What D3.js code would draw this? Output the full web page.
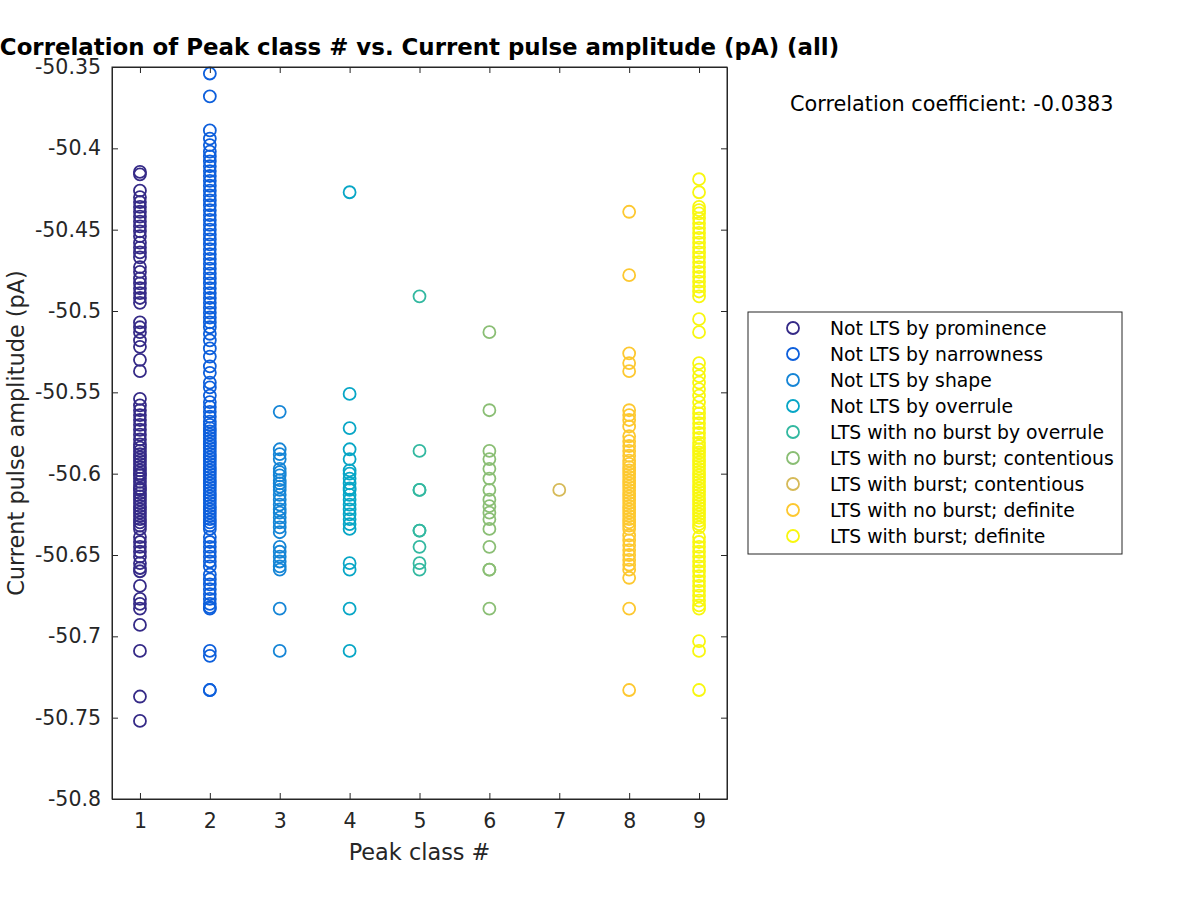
<!DOCTYPE html>
<html><head><meta charset="utf-8">
<script src="https://cdn.jsdelivr.net/npm/d3@7"></script>
<style>body{margin:0;background:#fff}svg{display:block}text{font-family:"DejaVu Sans",sans-serif}</style>
</head><body><svg id="c" width="1200" height="900"></svg>
<script>
const classNames = ["Not LTS by prominence","Not LTS by narrowness","Not LTS by shape","Not LTS by overrule","LTS with no burst by overrule","LTS with no burst; contentious","LTS with burst; contentious","LTS with no burst; definite","LTS with burst; definite"];
const classColors = ["#352a87","#0d5fdc","#1585d6","#07a6c6","#32b8a0","#8abe74","#d6ba58","#fdc830","#f8f70f"];
const xTicks = [1,2,3,4,5,6,7,8,9];
const yTicks = [-50.35,-50.4,-50.45,-50.5,-50.55,-50.6,-50.65,-50.7,-50.75,-50.8];
const class1 = [-50.4145,-50.416,-50.426,-50.430,-50.433,-50.436,-50.439,-50.442,-50.445,-50.448,-50.451,-50.454,-50.458,-50.461,-50.464,-50.467,-50.473,-50.476,-50.480,-50.483,-50.486,-50.489,-50.492,-50.495,-50.507,-50.510,-50.513,-50.518,-50.522,-50.530,-50.537,-50.554,-50.558,-50.561,-50.564,-50.567,-50.570,-50.573,-50.576,-50.579,
 -50.582,-50.584,-50.586,-50.588,-50.590,-50.592,-50.594,-50.596,-50.598,-50.600,-50.601,-50.603,-50.605,-50.607,-50.609,-50.610,-50.612,-50.614,-50.616,-50.618,-50.620,-50.622,-50.624,-50.626,-50.628,-50.630,-50.632,-50.634,
 -50.639,-50.642,-50.645,-50.648,-50.651,-50.655,-50.658,-50.660,-50.669,-50.677,-50.680,-50.683,-50.693,-50.709,-50.737,-50.752];
const class2 = [-50.354,-50.368,-50.389,-50.394,-50.398,-50.402,-50.405,-50.408,-50.411,-50.414,-50.417,-50.420,-50.423,-50.426,-50.429,-50.432,-50.435,-50.438,-50.441,-50.444,-50.447,-50.450,-50.453,-50.456,-50.459,-50.462,-50.465,-50.468,-50.471,-50.474,-50.477,-50.480,-50.483,-50.486,-50.489,-50.492,-50.495,-50.498,-50.501,-50.504,-50.507,-50.510,-50.514,-50.518,-50.523,-50.528,-50.534,-50.538,-50.544,-50.547,-50.552,-50.556,-50.559,-50.562,-50.565,-50.568,
 -50.570,-50.572,-50.574,-50.576,-50.578,-50.580,-50.582,-50.584,-50.586,-50.588,-50.590,-50.592,-50.594,-50.596,-50.598,-50.600,-50.602,-50.604,-50.606,-50.608,-50.610,-50.612,-50.614,-50.616,-50.618,-50.620,-50.622,-50.624,-50.626,-50.628,-50.630,-50.632,-50.634,
 -50.639,-50.642,-50.645,-50.648,-50.651,-50.654,-50.657,-50.662,-50.665,-50.668,-50.671,-50.674,-50.677,-50.680,-50.682,-50.683,-50.709,-50.712,-50.733,-50.733];
const class3 = [-50.562,-50.585,-50.588,-50.591,-50.597,-50.599,-50.601,-50.604,-50.606,-50.608,-50.610,-50.613,-50.616,-50.619,-50.622,-50.624,-50.627,-50.630,-50.633,-50.636,-50.645,-50.648,-50.651,-50.654,-50.657,-50.659,-50.683,-50.709];
const class4 = [-50.427,-50.551,-50.572,-50.585,-50.591,-50.598,-50.600,-50.603,-50.606,-50.609,-50.610,-50.613,-50.616,-50.619,-50.622,-50.625,-50.628,-50.631,-50.634,-50.655,-50.659,-50.683,-50.709];
const class5 = [-50.491,-50.586,-50.610,-50.610,-50.635,-50.635,-50.645,-50.655,-50.659];
const class6 = [-50.513,-50.561,-50.586,-50.591,-50.597,-50.603,-50.610,-50.616,-50.620,-50.624,-50.628,-50.634,-50.645,-50.659,-50.659,-50.683];
const class7 = [-50.610];
const class8 = [-50.439,-50.478,-50.526,-50.532,-50.537,-50.561,-50.564,-50.567,-50.571,-50.577,-50.580,-50.583,-50.586,-50.589,-50.592,
 -50.594,-50.596,-50.598,-50.600,-50.602,-50.604,-50.606,-50.608,-50.610,-50.612,-50.614,-50.616,-50.618,-50.620,-50.622,-50.624,-50.626,-50.628,-50.630,-50.632,-50.634,
 -50.638,-50.641,-50.644,-50.647,-50.650,-50.653,-50.656,-50.659,-50.664,-50.683,-50.733];
const class9 = [-50.419,-50.427,-50.436,-50.438,-50.440,-50.443,-50.446,-50.449,-50.452,-50.455,-50.458,-50.461,-50.464,-50.467,-50.470,-50.473,-50.476,-50.479,-50.482,-50.485,-50.488,-50.491,-50.505,-50.513,-50.532,-50.536,-50.540,-50.544,-50.548,-50.552,-50.556,-50.560,-50.563,-50.566,-50.569,-50.572,-50.575,-50.578,-50.581,
 -50.583,-50.585,-50.587,-50.589,-50.591,-50.593,-50.595,-50.597,-50.599,-50.601,-50.603,-50.605,-50.607,-50.609,-50.611,-50.613,-50.615,-50.617,-50.619,-50.621,-50.623,-50.625,-50.627,-50.629,-50.631,-50.633,
 -50.639,-50.642,-50.645,-50.648,-50.651,-50.654,-50.657,-50.660,-50.663,-50.666,-50.669,-50.672,-50.675,-50.678,-50.681,-50.683,-50.703,-50.709,-50.733];
const classValues = [class1,class2,class3,class4,class5,class6,class7,class8,class9];
const corrText = "Correlation coefficient: -0.0383";

const svg = d3.select("#c");
const L=112,R=727,T=67,B=799;
const x = d3.scaleLinear().domain([0.6,9.4]).range([L,R]);
const y = d3.scaleLinear().domain([-50.8,-50.35]).range([B,T]);
const axCol="#262626";

// points
classValues.forEach((vals,i)=>{
  svg.append("g").selectAll("circle").data(vals).join("circle")
    .attr("cx",x(i+1)).attr("cy",d=>y(d)).attr("r",6)
    .attr("fill","none").attr("stroke",classColors[i]).attr("stroke-width",1.8);
});

// axes
const fmt = d=>String(d);
const gB = svg.append("g").attr("transform",`translate(0,${B})`).call(d3.axisBottom(x).tickValues(xTicks).tickSizeInner(-6).tickSizeOuter(0).tickPadding(14).tickFormat(d3.format("d")));
const gT = svg.append("g").attr("transform",`translate(0,${T})`).call(d3.axisTop(x).tickValues(xTicks).tickSizeInner(-6).tickSizeOuter(0).tickFormat(""));
const gL = svg.append("g").attr("transform",`translate(${L},0)`).call(d3.axisLeft(y).tickValues(yTicks).tickSizeInner(-6).tickSizeOuter(0).tickPadding(11).tickFormat(fmt));
const gR = svg.append("g").attr("transform",`translate(${R},0)`).call(d3.axisRight(y).tickValues(yTicks).tickSizeInner(-6).tickSizeOuter(0).tickFormat(""));
[gB,gT,gL,gR].forEach(g=>{
  g.select(".domain").attr("stroke",axCol);
  g.selectAll(".tick line").attr("stroke",axCol);
  g.selectAll(".tick text").attr("fill",axCol).style("font-size","20.5px").style("font-family","'DejaVu Sans',sans-serif");
});
svg.append("rect").attr("x",L).attr("y",T).attr("width",R-L).attr("height",B-T).attr("fill","none").attr("stroke",axCol).attr("stroke-width",1);

// labels
svg.append("text").attr("x",(L+R)/2).attr("y",860).attr("text-anchor","middle").attr("fill",axCol).style("font-size","22.4px").text("Peak class #");
svg.append("text").attr("transform",`translate(24,${(T+B)/2}) rotate(-90)`).attr("text-anchor","middle").attr("fill",axCol).style("font-size","22.4px").text("Current pulse amplitude (pA)");
svg.append("text").attr("x",(L+R)/2).attr("y",55).attr("text-anchor","middle").attr("fill","#000").style("font-size","22.9px").style("font-weight","bold").text("Correlation of Peak class # vs. Current pulse amplitude (pA) (all)");
svg.append("text").attr("x",790).attr("y",111).attr("fill","#000").style("font-size","20.8px").text(corrText);

// legend
const lg = svg.append("g");
lg.append("rect").attr("x",748).attr("y",312).attr("width",374).attr("height",242).attr("fill","#fff").attr("stroke",axCol);
classNames.forEach((n,i)=>{
  const yy = 328 + i*26;
  lg.append("circle").attr("cx",793).attr("cy",yy).attr("r",6).attr("fill","none").attr("stroke",classColors[i]).attr("stroke-width",1.8);
  lg.append("text").attr("x",830).attr("y",yy+6.5).attr("fill","#000").style("font-size","18.8px").text(n);
});
</script></body></html>
